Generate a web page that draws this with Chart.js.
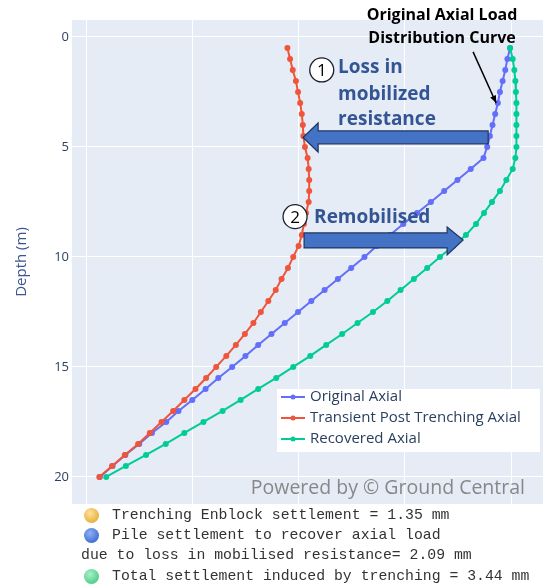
<!DOCTYPE html>
<html>
<head>
<meta charset="utf-8">
<script src="https://cdn.jsdelivr.net/npm/chart.js@4.4.0/dist/chart.umd.min.js"></script>
<style>
  html, body { margin: 0; padding: 0; background: #fff; }
  #wrap { position: relative; width: 557px; height: 588px; }
  #notes { position: absolute; left: 0; top: 0; width: 557px; height: 588px; pointer-events: none;
           font-family: "Liberation Mono", "DejaVu Sans Mono", monospace; font-size: 14.8px; color: #333; }
  .ln { position: absolute; white-space: pre; line-height: 20px; }
  .dot { position: absolute; width: 15px; height: 15px; border-radius: 50%; }
</style>
</head>
<body>
<div id="wrap">
  <canvas id="canvas" width="557" height="588"></canvas>
  <div id="notes">
    <span class="dot" style="left:84px;top:508px;background:radial-gradient(circle at 40% 35%, #ffe19a, #e9b245 70%, #d49a2c);"></span>
    <span class="ln" style="left:112px;top:505px;">Trenching Enblock settlement = 1.35 mm</span>
    <span class="dot" style="left:84px;top:528px;background:radial-gradient(circle at 40% 35%, #8fb0f2, #4472d4 70%, #3158b0);"></span>
    <span class="ln" style="left:112px;top:525px;">Pile settlement to recover axial load</span>
    <span class="ln" style="left:81px;top:545px;">due to loss in mobilised resistance= 2.09 mm</span>
    <span class="dot" style="left:84px;top:569px;background:radial-gradient(circle at 40% 35%, #a8f0c8, #55cf8e 70%, #3aae70);"></span>
    <span class="ln" style="left:112px;top:566px;">Total settlement induced by trenching = 3.44 mm</span>
  </div>
</div>
<script>
// depth of each point (m)
var depth = [0.5, 1, 1.5, 2, 2.5, 3, 3.5, 4, 4.5, 5,
             5.5, 6, 6.5, 7, 7.5, 8, 8.5, 9, 9.5, 10,
             10.5, 11, 11.5, 12, 12.5, 13, 13.5, 14, 14.5, 15,
             15.5, 16, 16.5, 17, 17.5, 18, 18.5, 19, 19.5, 20];

// axial load along the pile
var originalAxial = [3990, 3965, 3945, 3920, 3895, 3875, 3850, 3825, 3800, 3775,
                     3740, 3620, 3495, 3370, 3245, 3115, 2985, 2860, 2735, 2620,
                     2495, 2370, 2245, 2120, 1995, 1870, 1745, 1620, 1500, 1375,
                     1245, 1125, 1000, 870, 755, 620, 500, 370, 250, 130];

var transientAxial = [1895, 1920, 1945, 1975, 1995, 2015, 2030, 2040, 2045, 2060,
                      2085, 2095, 2100, 2100, 2095, 2070, 2050, 2030, 2000, 1950,
                      1900, 1840, 1785, 1715, 1645, 1575, 1495, 1410, 1320, 1225,
                      1130, 1030, 925, 820, 710, 600, 490, 365, 245, 125];

var recoveredAxial = [3990, 4015, 4030, 4040, 4045, 4050, 4050, 4050, 4050, 4050,
                      4040, 4015, 3955, 3895, 3820, 3745, 3670, 3575, 3455, 3330,
                      3210, 3085, 2960, 2835, 2700, 2555, 2410, 2260, 2110, 1950,
                      1790, 1620, 1455, 1285, 1105, 925, 750, 565, 375, 190];

var seriesNames = ['Original Axial', 'Transient Post Trenching Axial', 'Recovered Axial'];
var seriesColors = ['#636efa', '#EF553B', '#00cc96'];

var yTicks = [0, 5, 10, 15, 20];
var xGrid = [0, 1000, 2000, 3000, 4000];

var toPoints = function(values) {
  var pts = [];
  for (var i = 0; i < depth.length; i++) {
    pts.push({x: values[i], y: depth[i]});
  }
  return pts;
};

var makeSet = function(i, values, order) {
  return {
    label: seriesNames[i],
    data: toPoints(values),
    borderColor: seriesColors[i],
    backgroundColor: seriesColors[i],
    pointBackgroundColor: seriesColors[i],
    pointBorderWidth: 0,
    pointRadius: 3,
    borderWidth: 2,
    tension: 0,
    order: order
  };
};

// plot background
var bgPlugin = {
  id: 'bg',
  beforeDraw: function(chart) {
    var a = chart.chartArea, c = chart.ctx;
    c.save();
    c.fillStyle = '#E5ECF6';
    c.fillRect(a.left, a.top, a.right - a.left, a.bottom - a.top);
    c.restore();
  }
};

var circledNumber = function(c, cx, cy, n) {
  c.beginPath();
  c.arc(cx, cy, 12, 0, Math.PI * 2);
  c.fillStyle = '#fff';
  c.fill();
  c.lineWidth = 1.3;
  c.strokeStyle = '#1b1f2e';
  c.stroke();
  c.fillStyle = '#000';
  c.font = '17px "Open Sans"';
  c.textAlign = 'center';
  c.textBaseline = 'middle';
  c.fillText(n, cx, cy + 1);
};

var blockArrow = function(c, tailX, baseX, tipX, bodyTop, bodyBot, headTop, headBot, midY) {
  c.beginPath();
  c.moveTo(tailX, bodyTop);
  c.lineTo(baseX, bodyTop);
  c.lineTo(baseX, headTop);
  c.lineTo(tipX, midY);
  c.lineTo(baseX, headBot);
  c.lineTo(baseX, bodyBot);
  c.lineTo(tailX, bodyBot);
  c.closePath();
  c.fillStyle = '#4472c4';
  c.fill();
  c.lineWidth = 1.2;
  c.strokeStyle = '#1f3560';
  c.stroke();
};

var notePlugin = {
  id: 'notes',
  afterDatasetsDraw: function(chart) {
    var c = chart.ctx, xs = chart.scales.x, ys = chart.scales.y;
    var X = function(v) { return xs.getPixelForValue(v); };
    var Y = function(v) { return ys.getPixelForValue(v); };
    c.save();

    // title of original curve
    c.fillStyle = '#000';
    c.font = 'bold 16px "Open Sans"';
    c.textAlign = 'center';
    c.textBaseline = 'middle';
    c.fillText('Original Axial Load', X(3350), Y(-1.0));
    c.fillText('Distribution Curve', X(3350), Y(0.07));

    // thin pointer arrow
    var x1 = X(3642), y1 = Y(0.68), x2 = X(3859), y2 = Y(3.0);
    c.beginPath();
    c.moveTo(x1, y1);
    c.lineTo(x2, y2);
    c.lineWidth = 1.5;
    c.strokeStyle = '#000';
    c.stroke();
    var ang = Math.atan2(y2 - y1, x2 - x1);
    c.beginPath();
    c.moveTo(x2, y2);
    c.lineTo(x2 - 8 * Math.cos(ang - 0.4), y2 - 8 * Math.sin(ang - 0.4));
    c.lineTo(x2 - 8 * Math.cos(ang + 0.4), y2 - 8 * Math.sin(ang + 0.4));
    c.closePath();
    c.fillStyle = '#000';
    c.fill();

    // 1 loss in mobilized resistance
    circledNumber(c, X(2218), Y(1.5), '1');
    c.fillStyle = '#345594';
    c.font = 'bold 19px "Open Sans"';
    c.textAlign = 'left';
    c.textBaseline = 'middle';
    c.fillText('Loss in', X(2372), Y(1.41));
    c.fillText('mobilized', X(2372), Y(2.64));
    c.fillText('resistance', X(2372), Y(3.77));
    blockArrow(c, X(3784), X(2184), X(2042), Y(4.27), Y(4.86), Y(3.91), Y(5.23), Y(4.57));

    // 2 remobilised
    circledNumber(c, X(1967), Y(8.17), '2');
    c.fillStyle = '#345594';
    c.font = 'bold 19px "Open Sans"';
    c.textAlign = 'left';
    c.textBaseline = 'middle';
    c.fillText('Remobilised', X(2146), Y(8.23));
    blockArrow(c, X(2052), X(3398), X(3548), Y(8.91), Y(9.59), Y(8.64), Y(9.91), Y(9.23));

    c.restore();
  },
  afterDraw: function(chart) {
    var c = chart.ctx, a = chart.chartArea;
    c.save();
    // legend box
    var lx = a.right - 266, ly = a.top + 369;
    c.fillStyle = '#fff';
    c.fillRect(lx, ly, 263, 63);
    c.font = '15px "Open Sans"';
    c.textAlign = 'left';
    c.textBaseline = 'middle';
    for (var i = 0; i < seriesNames.length; i++) {
      var ry = ly + 8 + i * 21;
      c.strokeStyle = seriesColors[i];
      c.lineWidth = 2;
      c.beginPath();
      c.moveTo(lx + 4, ry);
      c.lineTo(lx + 28, ry);
      c.stroke();
      c.fillStyle = seriesColors[i];
      c.beginPath();
      c.arc(lx + 16, ry, 2.5, 0, Math.PI * 2);
      c.fill();
      c.fillStyle = '#2a3f5f';
      c.fillText(seriesNames[i], lx + 33, ry);
    }
    // watermark
    c.fillStyle = 'rgba(110,110,110,0.8)';
    c.font = '19.5px "Open Sans"';
    c.textAlign = 'right';
    c.textBaseline = 'middle';
    c.fillText('Powered by \u00a9 Ground Central', a.right - 18, a.bottom - 16);
    c.restore();
  }
};

var ctx = document.getElementById('canvas').getContext('2d');

window.myChart = new Chart(ctx, {
  type: 'line',
  data: {
    datasets: [
      makeSet(0, originalAxial, 3),
      makeSet(1, transientAxial, 2),
      makeSet(2, recoveredAxial, 1)
    ]
  },
  plugins: [bgPlugin, notePlugin],
  options: {
    responsive: false,
    animation: false,
    devicePixelRatio: 1,
    layout: { padding: { top: 20, right: 14, bottom: 84, left: 0 } },
    plugins: {
      legend: { display: false },
      tooltip: { enabled: false }
    },
    scales: {
      x: {
        type: 'linear',
        min: -132,
        max: 4300,
        afterBuildTicks: function(s) { s.ticks = xGrid.map(function(v) { return {value: v}; }); },
        afterFit: function(s) { s.height = 0; },
        grid: { color: '#ffffff', lineWidth: 1, drawTicks: false },
        border: { display: false },
        ticks: { display: false }
      },
      y: {
        type: 'linear',
        reverse: true,
        min: -0.77,
        max: 21.23,
        afterBuildTicks: function(s) { s.ticks = yTicks.map(function(v) { return {value: v}; }); },
        afterFit: function(s) { s.width = 72; },
        grid: { color: '#ffffff', lineWidth: 1, drawTicks: false },
        border: { display: false },
        ticks: { color: '#2a3f5f', font: { family: 'Open Sans', size: 13 }, padding: 3 },
        title: {
          display: true,
          text: 'Depth (m)',
          color: '#3b5590',
          font: { family: 'Open Sans', size: 15 },
          padding: { top: 13, bottom: 0 }
        }
      }
    }
  }
});
</script>
</body>
</html>
